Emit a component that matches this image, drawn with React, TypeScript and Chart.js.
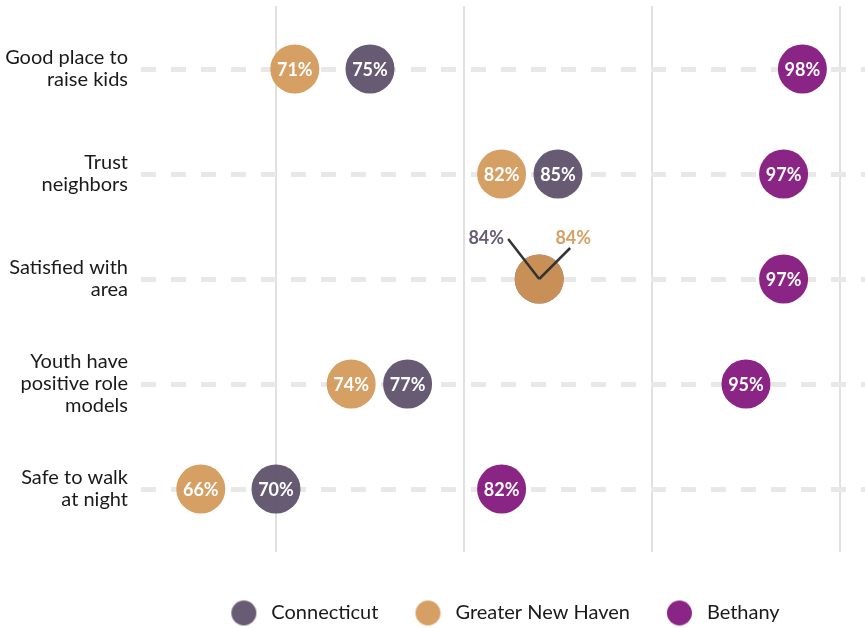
import React, { useEffect, useRef } from "react";
import { Chart, registerables } from "chart.js";
Chart.register(...registerables);

const categories: string[][] = [
  ["Good place to", "raise kids"],
  ["Trust", "neighbors"],
  ["Satisfied with", "area"],
  ["Youth have", "positive role", "models"],
  ["Safe to walk", "at night"],
];
const seriesNames = ["Connecticut", "Greater New Haven", "Bethany"];
const connecticut = [75, 85, 84, 77, 70];
const greaterNewHaven = [71, 82, 84, 74, 66];
const bethany = [98, 97, 97, 95, 82];
const gridValues = [70, 80, 90, 100];
const dotColors = ["rgba(88,75,102,0.91)", "rgba(210,150,84,0.91)", "rgba(127,15,121,0.91)"];
const solidColors = ["#675c74", "#d6a064", "#8b2585"];
const drawOrder = [1, 0, 2];

const FONT = "Lato, 'Noto Sans', sans-serif";

function circleImage(color: string, r: number) {
  const c = document.createElement("canvas");
  const s = Math.ceil(r * 2 + 2);
  c.width = s;
  c.height = s;
  const g = c.getContext("2d")!;
  g.fillStyle = color;
  g.beginPath();
  g.arc(s / 2, s / 2, r, 0, Math.PI * 2);
  g.fill();
  return c;
}

const labelPlugin = {
  id: "dotLabels",
  afterDatasetsDraw(chart: any) {
    const ctx: CanvasRenderingContext2D = chart.ctx;
    const n = categories.length;
    ctx.save();
    ctx.textAlign = "center";
    ctx.textBaseline = "middle";
    ctx.font = `bold 18px ${FONT}`;
    for (let i = 0; i < n; i++) {
      const groups = new Map<number, number[]>();
      chart.data.datasets.forEach((ds: any, di: number) => {
        const v = ds.data[i].x;
        if (!groups.has(v)) groups.set(v, []);
        groups.get(v)!.push(di);
      });
      groups.forEach((list, v) => {
        const pt = chart.getDatasetMeta(list[0]).data[i];
        const cx = pt.x;
        const cy = pt.y;
        const text = `${v}%`;
        if (list.length === 1) {
          ctx.fillStyle = "#ffffff";
          ctx.fillText(text, cx, cy + 1);
        } else {
          list.forEach((di, k) => {
            const left = k === 0;
            const lx = left ? cx - 31 : cx + 31;
            const ly = left ? cy - 40 : cy - 31;
            ctx.strokeStyle = "#333333";
            ctx.lineWidth = 2.5;
            ctx.beginPath();
            ctx.moveTo(cx, cy);
            ctx.lineTo(lx, ly);
            ctx.stroke();
            ctx.fillStyle = solidColors[di];
            ctx.fillText(text, left ? cx - 53 : cx + 34, cy - 41);
          });
        }
      });
    }
    ctx.restore();
  },
};

function zeroPad(s: any) {
  s.paddingTop = 0;
  s.paddingBottom = 0;
  s.paddingLeft = 0;
  s.paddingRight = 0;
}

export default function App() {
  const ref = useRef<HTMLCanvasElement>(null);
  useEffect(() => {
    const series = [connecticut, greaterNewHaven, bethany];
    const chart = new Chart(ref.current!, {
      type: "scatter",
      data: {
        datasets: series.map((vals, si) => ({
          label: seriesNames[si],
          data: vals.map((v, i) => ({ x: v, y: i })),
          backgroundColor: dotColors[si],
          borderColor: dotColors[si],
          borderWidth: 0,
          pointRadius: 24.5,
          pointHoverRadius: 24.5,
          order: drawOrder[si],
          clip: false,
        })),
      },
      options: {
        responsive: false,
        animation: false,
        events: [],
        layout: { autoPadding: false, padding: { top: 6, left: 0, right: 0, bottom: 0 } },
        scales: {
          x: {
            type: "linear",
            min: 62.82,
            max: 101.33,
            afterBuildTicks: (s: any) => {
              s.ticks = gridValues.map((v) => ({ value: v }));
            },
            afterFit: (s: any) => {
              s.height = 19;
              zeroPad(s);
            },
            ticks: { display: false },
            grid: { color: "#e0e0e0", lineWidth: 2, drawTicks: false },
            border: { display: false },
          },
          y: {
            type: "linear",
            min: -0.6,
            max: 4.6,
            reverse: true,
            afterBuildTicks: (s: any) => {
              s.ticks = categories.map((_, i) => ({ value: i }));
            },
            afterFit: (s: any) => {
              s.width = 141;
              zeroPad(s);
            },
            ticks: {
              callback: (v: any) => categories[v as number],
              color: "#1a1a1a",
              padding: 13,
              font: { family: FONT, size: 20, lineHeight: 22 / 20 },
            },
            grid: { color: "#e8e8e8", lineWidth: 5, drawTicks: false },
            border: { display: false, dash: [15, 15] },
          },
        },
        plugins: {
          tooltip: { enabled: false },
          legend: {
            position: "bottom",
            fullSize: false,
            maxHeight: 57,
            labels: {
              usePointStyle: true,
              pointStyleWidth: 35,
              padding: 32,
              color: "#1a1a1a",
              font: { family: FONT, size: 20 },
              generateLabels: (c: any) =>
                c.data.datasets.map((ds: any, i: number) => ({
                  text: ds.label,
                  fillStyle: solidColors[i],
                  strokeStyle: solidColors[i],
                  lineWidth: 0,
                  pointStyle: circleImage(solidColors[i], 12.5),
                  hidden: false,
                  datasetIndex: i,
                  fontColor: "#1a1a1a",
                })),
            },
          },
        },
      },
      plugins: [labelPlugin],
    } as any);
    return () => chart.destroy();
  }, []);
  return (
    <div style={{ position: "absolute", left: 0, top: 0, width: 865, height: 628, background: "#fff" }}>
      <canvas ref={ref} width={865} height={628} />
    </div>
  );
}
